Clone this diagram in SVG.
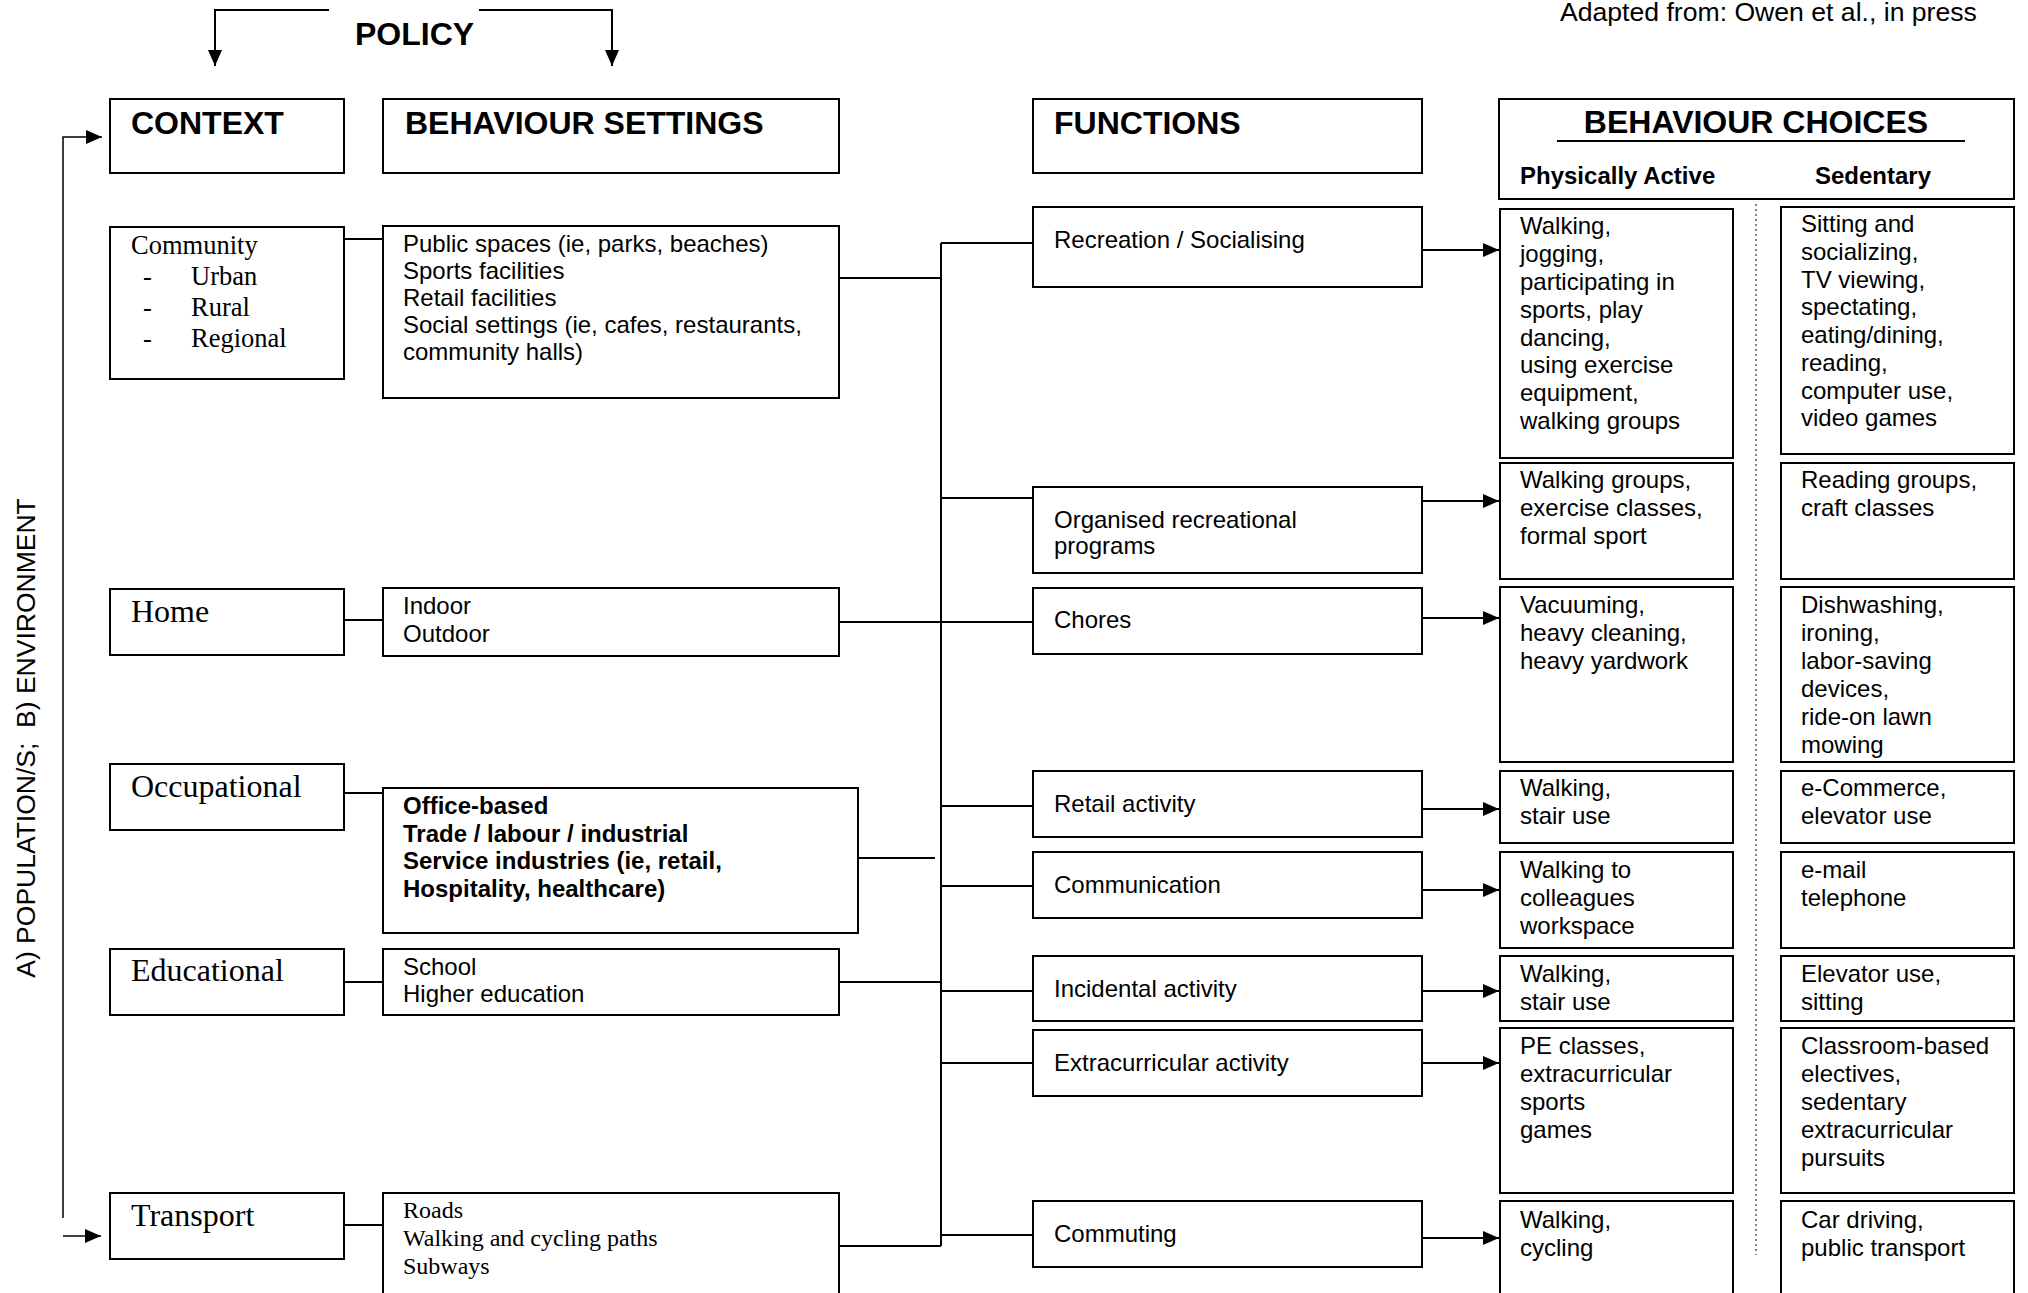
<svg xmlns="http://www.w3.org/2000/svg" width="2028" height="1293" viewBox="0 0 2028 1293">
<style>
.box{fill:#fff;stroke:#000;stroke-width:2}
.ln{fill:none;stroke:#000;stroke-width:2}
.thin{fill:none;stroke:#000;stroke-width:1.5}
.dot{fill:none;stroke:#000;stroke-width:1;stroke-dasharray:2 3}
text{fill:#000}
.a{font-family:"Liberation Sans",Arial,sans-serif;font-size:24px}
.ab{font-family:"Liberation Sans",Arial,sans-serif;font-size:24px;font-weight:bold}
.h{font-family:"Liberation Sans",Arial,sans-serif;font-size:32px;font-weight:bold}
.t{font-family:"Liberation Serif","Times New Roman",serif;font-size:32px}
.ts{font-family:"Liberation Serif","Times New Roman",serif;font-size:26.5px}
.t24{font-family:"Liberation Serif","Times New Roman",serif;font-size:24px}
.note{font-family:"Liberation Sans",Arial,sans-serif;font-size:26.6px}
.side{font-family:"Liberation Sans",Arial,sans-serif;font-size:26.5px}
</style>
<defs>
<marker id="ah" markerUnits="userSpaceOnUse" markerWidth="16" markerHeight="14" refX="16" refY="7" orient="auto">
<path d="M0,0 L16,7 L0,14 z" fill="#000"/>
</marker>
</defs>
<rect width="2028" height="1293" fill="#fff"/>

<text class="note" x="1560" y="21">Adapted from: Owen et al., in press</text>
<text class="side" transform="translate(35,738) rotate(-90)" text-anchor="middle">A) POPULATION/S;&#160; B) ENVIRONMENT</text>

<g id="connectors">
<path class="ln" d="M329,10 H215 V66" marker-end="url(#ah)"/>
<path class="ln" d="M479,10 H612 V66" marker-end="url(#ah)"/>
<path class="thin" d="M63,1218 V137 H102" marker-end="url(#ah)"/>
<path class="thin" d="M63,1236 H101" marker-end="url(#ah)"/>
<path class="ln" d="M344,239 H383"/>
<path class="ln" d="M344,620 H383"/>
<path class="ln" d="M344,793 H383"/>
<path class="ln" d="M344,982 H383"/>
<path class="ln" d="M344,1225 H383"/>
<path class="ln" d="M839,278 H941"/>
<path class="ln" d="M839,622 H941"/>
<path class="ln" d="M858,858 H935"/>
<path class="ln" d="M839,982 H941"/>
<path class="ln" d="M839,1246 H941"/>
<path class="ln" d="M941,243 V1246"/>
<path class="ln" d="M941,243 H1033"/>
<path class="ln" d="M941,498 H1033"/>
<path class="ln" d="M941,622 H1033"/>
<path class="ln" d="M941,806 H1033"/>
<path class="ln" d="M941,886 H1033"/>
<path class="ln" d="M941,991 H1033"/>
<path class="ln" d="M941,1063 H1033"/>
<path class="ln" d="M941,1235 H1033"/>
<path class="ln" d="M1422,250 H1499" marker-end="url(#ah)"/>
<path class="ln" d="M1422,501 H1499" marker-end="url(#ah)"/>
<path class="ln" d="M1422,618 H1499" marker-end="url(#ah)"/>
<path class="ln" d="M1422,809 H1499" marker-end="url(#ah)"/>
<path class="ln" d="M1422,890 H1499" marker-end="url(#ah)"/>
<path class="ln" d="M1422,991 H1499" marker-end="url(#ah)"/>
<path class="ln" d="M1422,1063 H1499" marker-end="url(#ah)"/>
<path class="ln" d="M1422,1238 H1499" marker-end="url(#ah)"/>
<path class="dot" d="M1756,204 V1255"/>
</g>

<text class="h" x="355" y="45">POLICY</text>

<g id="hdr-context"><rect class="box" x="110" y="99" width="234" height="74"/><text class="h" x="131" y="134">CONTEXT</text></g>
<g id="hdr-settings"><rect class="box" x="383" y="99" width="456" height="74"/><text class="h" x="405" y="134">BEHAVIOUR SETTINGS</text></g>
<g id="hdr-functions"><rect class="box" x="1033" y="99" width="389" height="74"/><text class="h" x="1054" y="134">FUNCTIONS</text></g>
<g id="hdr-choices"><rect class="box" x="1499" y="99" width="515" height="100"/>
<text class="h" x="1756" y="133" text-anchor="middle">BEHAVIOUR CHOICES</text>
<path class="ln" d="M1557,141 H1965"/>
<text class="ab" x="1520" y="184">Physically Active</text>
<text class="ab" x="1815" y="184">Sedentary</text></g>

<g id="ctx-community"><rect class="box" x="110" y="227" width="234" height="152"/>
<text class="ts" x="131" y="254">Community</text>
<text class="ts" x="143" y="285">-</text><text class="ts" x="191" y="285">Urban</text>
<text class="ts" x="143" y="316">-</text><text class="ts" x="191" y="316">Rural</text>
<text class="ts" x="143" y="347">-</text><text class="ts" x="191" y="347">Regional</text></g>
<g id="ctx-home"><rect class="box" x="110" y="589" width="234" height="66"/><text class="t" x="131" y="622">Home</text></g>
<g id="ctx-occupational"><rect class="box" x="110" y="764" width="234" height="66"/><text class="t" x="131" y="797">Occupational</text></g>
<g id="ctx-educational"><rect class="box" x="110" y="949" width="234" height="66"/><text class="t" x="131" y="981">Educational</text></g>
<g id="ctx-transport"><rect class="box" x="110" y="1193" width="234" height="66"/><text class="t" x="131" y="1226">Transport</text></g>

<g id="set-community"><rect class="box" x="383" y="226" width="456" height="172"/>
<text class="a" x="403" y="252">Public spaces (ie, parks, beaches)</text>
<text class="a" x="403" y="279">Sports facilities</text>
<text class="a" x="403" y="306">Retail facilities</text>
<text class="a" x="403" y="333">Social settings (ie, cafes, restaurants,</text>
<text class="a" x="403" y="360">community halls)</text></g>
<g id="set-home"><rect class="box" x="383" y="588" width="456" height="68"/>
<text class="a" x="403" y="614">Indoor</text>
<text class="a" x="403" y="642">Outdoor</text></g>
<g id="set-occupational"><rect class="box" x="383" y="788" width="475" height="145"/>
<text class="ab" x="403" y="814">Office-based</text>
<text class="ab" x="403" y="842">Trade / labour / industrial</text>
<text class="ab" x="403" y="869">Service industries (ie, retail,</text>
<text class="ab" x="403" y="897">Hospitality, healthcare)</text></g>
<g id="set-educational"><rect class="box" x="383" y="949" width="456" height="66"/>
<text class="a" x="403" y="975">School</text>
<text class="a" x="403" y="1002">Higher education</text></g>
<g id="set-transport"><rect class="box" x="383" y="1193" width="456" height="110"/>
<text class="t24" x="403" y="1218">Roads</text>
<text class="t24" x="403" y="1246">Walking and cycling paths</text>
<text class="t24" x="403" y="1274">Subways</text></g>

<g id="fn-recreation"><rect class="box" x="1033" y="207" width="389" height="80"/><text class="a" x="1054" y="248">Recreation / Socialising</text></g>
<g id="fn-organised"><rect class="box" x="1033" y="487" width="389" height="86"/><text class="a" x="1054" y="528">Organised recreational</text><text class="a" x="1054" y="554">programs</text></g>
<g id="fn-chores"><rect class="box" x="1033" y="588" width="389" height="66"/><text class="a" x="1054" y="628">Chores</text></g>
<g id="fn-retail"><rect class="box" x="1033" y="771" width="389" height="66"/><text class="a" x="1054" y="812">Retail activity</text></g>
<g id="fn-communication"><rect class="box" x="1033" y="852" width="389" height="66"/><text class="a" x="1054" y="893">Communication</text></g>
<g id="fn-incidental"><rect class="box" x="1033" y="956" width="389" height="65"/><text class="a" x="1054" y="997">Incidental activity</text></g>
<g id="fn-extracurricular"><rect class="box" x="1033" y="1030" width="389" height="66"/><text class="a" x="1054" y="1071">Extracurricular activity</text></g>
<g id="fn-commuting"><rect class="box" x="1033" y="1201" width="389" height="66"/><text class="a" x="1054" y="1242">Commuting</text></g>

<g id="pa-recreation"><rect class="box" x="1500" y="209" width="233" height="249"/>
<text class="a" x="1520" y="234">Walking,</text>
<text class="a" x="1520" y="262">jogging,</text>
<text class="a" x="1520" y="290">participating in</text>
<text class="a" x="1520" y="318">sports, play</text>
<text class="a" x="1520" y="346">dancing,</text>
<text class="a" x="1520" y="373">using exercise</text>
<text class="a" x="1520" y="401">equipment,</text>
<text class="a" x="1520" y="429">walking groups</text></g>
<g id="pa-organised"><rect class="box" x="1500" y="463" width="233" height="116"/>
<text class="a" x="1520" y="488">Walking groups,</text>
<text class="a" x="1520" y="516">exercise classes,</text>
<text class="a" x="1520" y="544">formal sport</text></g>
<g id="pa-chores"><rect class="box" x="1500" y="587" width="233" height="175"/>
<text class="a" x="1520" y="613">Vacuuming,</text>
<text class="a" x="1520" y="641">heavy cleaning,</text>
<text class="a" x="1520" y="669">heavy yardwork</text></g>
<g id="pa-retail"><rect class="box" x="1500" y="771" width="233" height="72"/>
<text class="a" x="1520" y="796">Walking,</text>
<text class="a" x="1520" y="824">stair use</text></g>
<g id="pa-communication"><rect class="box" x="1500" y="852" width="233" height="96"/>
<text class="a" x="1520" y="878">Walking to</text>
<text class="a" x="1520" y="906">colleagues</text>
<text class="a" x="1520" y="934">workspace</text></g>
<g id="pa-incidental"><rect class="box" x="1500" y="956" width="233" height="65"/>
<text class="a" x="1520" y="982">Walking,</text>
<text class="a" x="1520" y="1010">stair use</text></g>
<g id="pa-extracurricular"><rect class="box" x="1500" y="1028" width="233" height="165"/>
<text class="a" x="1520" y="1054">PE classes,</text>
<text class="a" x="1520" y="1082">extracurricular</text>
<text class="a" x="1520" y="1110">sports</text>
<text class="a" x="1520" y="1138">games</text></g>
<g id="pa-commuting"><rect class="box" x="1500" y="1201" width="233" height="110"/>
<text class="a" x="1520" y="1228">Walking,</text>
<text class="a" x="1520" y="1256">cycling</text></g>

<g id="sed-recreation"><rect class="box" x="1781" y="207" width="233" height="247"/>
<text class="a" x="1801" y="232">Sitting and</text>
<text class="a" x="1801" y="260">socializing,</text>
<text class="a" x="1801" y="288">TV viewing,</text>
<text class="a" x="1801" y="315">spectating,</text>
<text class="a" x="1801" y="343">eating/dining,</text>
<text class="a" x="1801" y="371">reading,</text>
<text class="a" x="1801" y="399">computer use,</text>
<text class="a" x="1801" y="426">video games</text></g>
<g id="sed-organised"><rect class="box" x="1781" y="463" width="233" height="116"/>
<text class="a" x="1801" y="488">Reading groups,</text>
<text class="a" x="1801" y="516">craft classes</text></g>
<g id="sed-chores"><rect class="box" x="1781" y="587" width="233" height="175"/>
<text class="a" x="1801" y="613">Dishwashing,</text>
<text class="a" x="1801" y="641">ironing,</text>
<text class="a" x="1801" y="669">labor-saving</text>
<text class="a" x="1801" y="697">devices,</text>
<text class="a" x="1801" y="725">ride-on lawn</text>
<text class="a" x="1801" y="753">mowing</text></g>
<g id="sed-retail"><rect class="box" x="1781" y="771" width="233" height="72"/>
<text class="a" x="1801" y="796">e-Commerce,</text>
<text class="a" x="1801" y="824">elevator use</text></g>
<g id="sed-communication"><rect class="box" x="1781" y="852" width="233" height="96"/>
<text class="a" x="1801" y="878">e-mail</text>
<text class="a" x="1801" y="906">telephone</text></g>
<g id="sed-incidental"><rect class="box" x="1781" y="956" width="233" height="65"/>
<text class="a" x="1801" y="982">Elevator use,</text>
<text class="a" x="1801" y="1010">sitting</text></g>
<g id="sed-extracurricular"><rect class="box" x="1781" y="1028" width="233" height="165"/>
<text class="a" x="1801" y="1054">Classroom-based</text>
<text class="a" x="1801" y="1082">electives,</text>
<text class="a" x="1801" y="1110">sedentary</text>
<text class="a" x="1801" y="1138">extracurricular</text>
<text class="a" x="1801" y="1166">pursuits</text></g>
<g id="sed-commuting"><rect class="box" x="1781" y="1201" width="233" height="110"/>
<text class="a" x="1801" y="1228">Car driving,</text>
<text class="a" x="1801" y="1256">public transport</text></g>
</svg>
